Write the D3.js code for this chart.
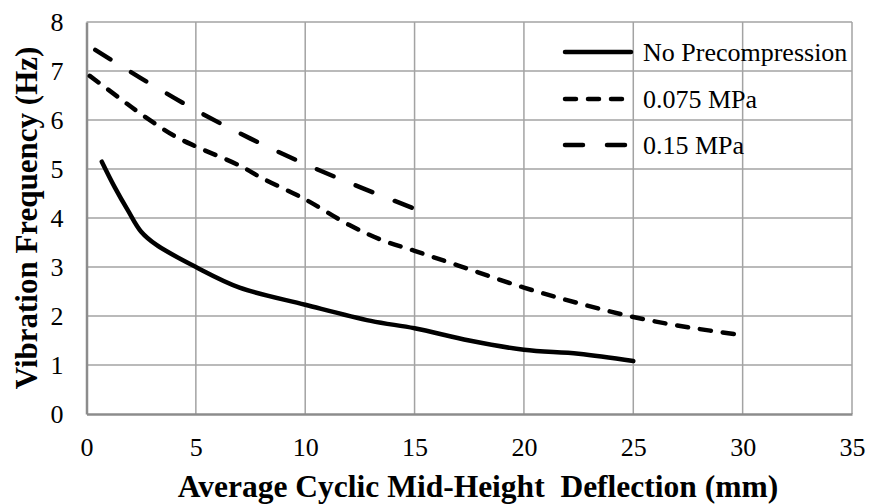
<!DOCTYPE html>
<html>
<head>
<meta charset="utf-8">
<script src="https://cdn.jsdelivr.net/npm/d3@7"></script>
<style>
  html, body { margin: 0; padding: 0; background: #fff; }
  svg { display: block; }
</style>
</head>
<body>
<svg id="chart"></svg>
<script>
// deflection (mm) vs vibration frequency (Hz)
const noPrecompression = [
  [0.7, 5.15], [1.3, 4.62], [1.9, 4.15], [2.5, 3.72], [3.2, 3.45], [5, 3.0],
  [7, 2.58], [10, 2.23], [13, 1.9], [15, 1.75], [17.5, 1.5], [20, 1.31],
  [22.5, 1.23], [25, 1.08]
]
const mpa0075 = [
  [0.15, 6.9], [1.5, 6.45], [2.5, 6.12], [4, 5.68], [5, 5.46], [7, 5.07],
  [8, 4.82], [10, 4.38], [12, 3.86], [13.5, 3.55], [15, 3.33], [17, 3.03],
  [20, 2.58], [22.5, 2.26], [25, 1.98], [27.5, 1.77], [30, 1.61]
]
const mpa015 = [
  [0.4, 7.43], [2.5, 6.85], [5, 6.2], [7.5, 5.62], [10, 5.1], [12.5, 4.63], [15, 4.19]
]
const seriesNames = ['No Precompression', '0.075 MPa', '0.15 MPa']
const xTicks = [0, 5, 10, 15, 20, 25, 30, 35]
const yTicks = [0, 1, 2, 3, 4, 5, 6, 7, 8]

const width = 869
const height = 504
const plotLeft = 86.5, plotRight = 852, plotTop = 22, plotBottom = 414
const font = '"Liberation Serif", "Times New Roman", Tinos, serif'

const svg = d3.select('#chart')
  .attr('width', width)
  .attr('height', height)

const x = d3.scaleLinear().domain([0, 35]).range([plotLeft, plotRight])
const y = d3.scaleLinear().domain([0, 8]).range([plotBottom, plotTop])

// gridlines
svg.append('g')
  .selectAll('line')
  .data(xTicks.slice(1))
  .join('line')
  .attr('x1', d => x(d)).attr('x2', d => x(d))
  .attr('y1', plotTop).attr('y2', plotBottom)
  .attr('stroke', '#a3a3a3')
  .attr('stroke-width', 1.5)

svg.append('g')
  .selectAll('line')
  .data(yTicks.slice(1))
  .join('line')
  .attr('x1', plotLeft).attr('x2', plotRight)
  .attr('y1', d => y(d)).attr('y2', d => y(d))
  .attr('stroke', '#a3a3a3')
  .attr('stroke-width', 1.5)

// axes
const xAxis = svg.append('g')
  .attr('transform', `translate(0,${plotBottom})`)
  .call(d3.axisBottom(x).tickValues(xTicks).tickSize(0).tickPadding(24))
const yAxis = svg.append('g')
  .attr('transform', `translate(${plotLeft},0)`)
  .call(d3.axisLeft(y).tickValues(yTicks).tickSize(0).tickPadding(23))

;[xAxis, yAxis].forEach(a => {
  a.select('.domain').attr('stroke', '#8c8c8c').attr('stroke-width', 2.5)
  a.selectAll('text')
    .style('font-family', font)
    .style('font-size', '26px')
    .attr('fill', '#000')
})

// axis titles
svg.append('text')
  .attr('x', 478)
  .attr('y', 497)
  .attr('text-anchor', 'middle')
  .style('font-family', font)
  .style('font-weight', 'bold')
  .style('font-size', '31.5px')
  .style('white-space', 'pre')
  .text('Average Cyclic Mid-Height  Deflection (mm)')

svg.append('text')
  .attr('transform', 'translate(37,218) rotate(-90)')
  .attr('text-anchor', 'middle')
  .style('font-family', font)
  .style('font-weight', 'bold')
  .style('font-size', '31px')
  .text('Vibration Frequency (Hz)')

// series
const line = d3.line()
  .x(d => x(d[0]))
  .y(d => y(d[1]))
  .curve(d3.curveCatmullRom.alpha(0.5))

const styles = [
  { data: noPrecompression, dash: null },
  { data: mpa0075, dash: '11,12' },
  { data: mpa015, dash: '18,24' }
]

styles.forEach(s => {
  svg.append('path')
    .datum(s.data)
    .attr('d', line)
    .attr('fill', 'none')
    .attr('stroke', '#000')
    .attr('stroke-width', 4.5)
    .attr('stroke-linecap', 'round')
    .attr('stroke-dasharray', s.dash)
})

// legend
const legendY = [52, 99, 145]
seriesNames.forEach((name, i) => {
  svg.append('line')
    .attr('x1', 565).attr('x2', 631)
    .attr('y1', legendY[i]).attr('y2', legendY[i])
    .attr('stroke', '#000')
    .attr('stroke-width', 4.5)
    .attr('stroke-linecap', 'round')
    .attr('stroke-dasharray', styles[i].dash)

  svg.append('text')
    .attr('x', 643)
    .attr('y', legendY[i] + 9)
    .style('font-family', font)
    .style('font-size', '26px')
    .text(name)
})
</script>
</body>
</html>
